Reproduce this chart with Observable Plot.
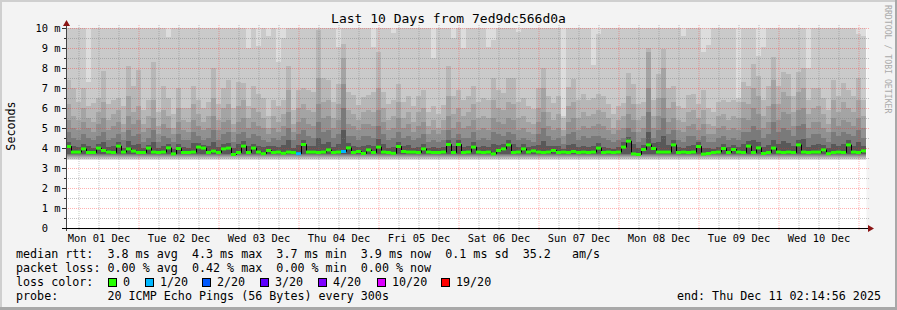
<!DOCTYPE html>
<html><head><meta charset="utf-8">
<script src="https://cdn.jsdelivr.net/npm/d3@7"></script>
<script src="https://cdn.jsdelivr.net/npm/@observablehq/plot@0.6"></script>
<style>
html,body{margin:0;padding:0;background:#f3f3f3;}
#chart{width:897px;height:310px;}
svg{display:block;}
</style></head><body><div id="chart"></div>
<script>
const FONT = "'DejaVu Sans Mono', monospace";
const title = "Last 10 Days from 7ed9dc566d0a";
const yLabel = "Seconds";
const watermark = "RRDTOOL / TOBI OETIKER";
const dayLabels = ["Mon 01 Dec","Tue 02 Dec","Wed 03 Dec","Thu 04 Dec","Fri 05 Dec","Sat 06 Dec","Sun 07 Dec","Mon 08 Dec","Tue 09 Dec","Wed 10 Dec"];
const yTicks = [0,1,2,3,4,5,6,7,8,9,10];
const yMinorTicks = [0.5,1.5,2.5,3.5,4.5,5.5,6.5,7.5,8.5,9.5];
const startHour = 2.249;   // Mon 01 Dec 02:14:56 (hours after Mon 01 Dec 00:00)
const spanHours = 240;
const binHours = 1.5;

// median rtt per bin (ms)
const median = [
4.1,3.82,3.82,3.98,3.8,3.8,4.02,3.9,3.82,3.8,
4.12,3.82,3.98,3.87,3.8,3.8,4.02,3.82,3.8,3.82,
4.03,3.73,4.0,3.8,3.8,3.82,4.07,4.02,3.8,3.87,
3.8,3.98,4.02,3.7,3.8,4.12,3.8,4.02,3.82,3.74,
3.9,3.8,3.82,3.76,3.82,3.8,3.74,4.2,3.82,3.82,
3.8,3.82,3.93,3.8,3.82,3.85,4.03,3.8,3.85,3.75,
3.93,3.8,4.07,3.82,3.8,3.76,4.1,3.85,3.82,3.82,
3.8,3.98,3.82,3.8,3.8,3.82,4.2,3.8,4.2,3.8,
3.82,4.07,3.82,3.8,3.82,3.73,3.9,3.98,4.18,3.8,
3.82,3.98,3.82,3.88,3.82,3.8,3.82,3.9,3.8,3.82,
3.8,3.85,3.8,3.82,3.8,3.82,4.02,3.8,3.82,3.8,
3.82,4.07,4.37,3.73,3.7,3.95,4.18,4.0,3.82,3.82,
3.82,4.18,3.8,3.82,3.8,3.82,4.1,3.72,3.75,3.8,
3.82,4.0,3.8,3.95,3.82,3.8,4.12,3.8,4.03,3.75,
3.8,4.02,3.82,3.8,3.82,3.8,4.18,3.82,3.8,3.82,
3.82,3.93,3.74,3.8,3.82,3.8,4.18,3.82,3.8,3.88];

// smoke band tops (ms), outer to inner
const smoke3 = [
7.4,7.0,6.3,7.0,6.1,6.25,6.5,7.85,6.2,6.4,
6.5,6.1,8.1,7.1,7.9,5.9,6.4,8.3,5.8,7.1,
6.5,5.7,7.0,6.0,6.0,7.1,6.4,6.0,6.3,8.0,
6.2,7.0,7.4,6.0,7.3,7.25,6.1,7.1,6.7,6.5,
5.6,6.4,6.1,6.4,8.1,5.9,6.9,7.0,6.9,6.8,
9.9,7.5,7.4,6.3,7.2,9.2,6.8,6.65,6.15,6.55,
6.65,6.8,8.8,6.8,6.2,6.4,7.2,6.3,6.6,6.1,
6.6,6.9,5.8,6.1,5.7,6.15,8.1,6.6,6.9,6.4,
6.6,7.1,6.3,6.5,6.4,7.5,6.9,6.75,7.5,7.5,
6.3,6.5,6.1,5.95,7.0,8.0,6.6,6.25,6.6,5.5,
7.05,7.45,6.4,6.7,6.4,6.5,6.7,6.6,6.2,5.7,
6.1,6.25,7.77,7.2,6.2,6.3,9.0,6.4,7.7,8.95,
7.0,7.1,6.1,6.0,6.65,6.7,6.2,6.9,6.0,5.8,
6.3,6.4,6.3,6.4,6.3,7.3,7.1,8.2,7.6,6.4,
7.1,8.57,7.1,7.8,7.7,6.6,7.8,8.0,6.4,7.0,
7.0,6.5,5.9,7.4,6.6,7.25,6.9,6.6,7.5,6.4];
const smoke4 = [
6.2,5.6,5.4,6.0,5.5,5.3,5.8,6.3,5.4,5.7,
5.9,5.2,6.6,5.8,6.1,5.2,5.6,6.4,5.1,5.9,
5.6,5.0,6.0,5.4,5.3,6.2,5.7,5.3,5.6,6.5,
5.4,6.0,6.2,5.2,6.1,6.4,5.5,6.0,5.8,5.5,
5.0,5.6,5.3,5.7,6.9,5.2,6.0,6.2,5.9,5.8,
7.5,6.3,6.4,5.5,6.2,8.5,5.9,5.7,5.4,5.8,
5.9,5.8,7.0,6.0,5.4,5.6,6.3,5.5,5.8,5.3,
5.8,6.0,5.1,5.4,5.0,5.4,6.6,5.7,6.0,5.6,
5.8,6.2,5.5,5.6,5.5,6.4,6.0,5.9,6.3,6.2,
5.5,5.6,5.3,5.2,6.0,7.0,5.8,5.4,5.7,4.9,
6.1,6.3,5.5,5.8,5.6,5.7,5.9,5.8,5.5,5.0,
5.4,5.6,6.6,6.2,5.4,5.6,8.8,5.6,6.5,8.0,
6.0,6.3,5.4,5.3,5.8,5.9,5.5,5.9,5.2,5.1,
5.6,5.7,5.4,5.6,5.5,6.3,6.2,7.0,6.6,5.6,
6.1,7.4,6.2,6.8,6.6,5.8,6.8,7.0,5.7,6.0,
6.1,5.7,5.2,6.4,5.8,6.3,6.0,5.8,6.4,5.6];
const smoke5 = [
5.4,5.0,4.9,5.3,5.0,4.8,5.2,5.5,4.9,5.1,
5.3,4.8,5.6,5.2,5.4,4.8,5.0,5.5,4.7,5.2,
5.0,4.7,5.3,4.9,4.8,5.4,5.1,4.9,5.0,5.6,
4.9,5.3,5.4,4.8,5.3,5.5,5.0,5.3,5.1,5.0,
4.7,5.0,4.8,5.1,5.8,4.8,5.3,5.5,5.2,5.1,
6.2,5.5,5.6,5.0,5.4,7.2,5.2,5.1,4.9,5.2,
5.2,5.1,5.9,5.3,4.9,5.0,5.5,5.0,5.2,4.8,
5.1,5.3,4.7,4.9,4.7,4.9,5.6,5.0,5.3,5.0,
5.1,5.4,4.9,5.0,4.9,5.5,5.3,5.2,5.5,5.4,
4.9,5.0,4.8,4.7,5.3,5.8,5.1,4.9,5.0,4.6,
5.3,5.5,4.9,5.1,5.0,5.1,5.2,5.1,4.9,4.7,
4.9,5.0,5.7,5.4,4.8,5.0,7.0,5.0,5.6,6.5,
5.3,5.5,4.9,4.8,5.1,5.2,4.9,5.2,4.7,4.7,
5.0,5.1,4.9,5.0,4.9,5.5,5.4,6.0,5.7,5.0,
5.3,6.2,5.4,5.8,5.7,5.1,5.9,6.0,5.0,5.3,
5.3,5.0,4.8,5.5,5.1,5.4,5.3,5.1,5.5,5.0];
const smoke6 = [
4.8,4.5,4.4,4.7,4.5,4.4,4.6,4.8,4.4,4.5,
4.7,4.4,4.9,4.6,4.7,4.3,4.5,4.9,4.3,4.6,
4.5,4.3,4.7,4.4,4.4,4.8,4.6,4.4,4.5,4.9,
4.4,4.7,4.8,4.3,4.7,4.8,4.5,4.7,4.6,4.4,
4.3,4.5,4.4,4.6,5.0,4.4,4.7,4.9,4.6,4.5,
5.3,4.8,4.9,4.5,4.7,6.0,4.6,4.6,4.4,4.6,
4.6,4.5,5.1,4.7,4.4,4.5,4.8,4.5,4.6,4.4,
4.5,4.7,4.3,4.4,4.3,4.4,4.9,4.5,4.7,4.5,
4.5,4.8,4.4,4.5,4.4,4.8,4.7,4.6,4.8,4.7,
4.4,4.5,4.4,4.3,4.7,5.0,4.6,4.4,4.5,4.2,
4.7,4.8,4.4,4.6,4.5,4.6,4.6,4.5,4.4,4.3,
4.4,4.5,5.0,4.8,4.3,4.5,5.8,4.5,4.9,5.5,
4.7,4.9,4.4,4.3,4.6,4.6,4.4,4.6,4.3,4.3,
4.5,4.6,4.4,4.5,4.4,4.8,4.8,5.1,4.9,4.5,
4.7,5.3,4.8,5.0,4.9,4.6,5.1,5.2,4.5,4.7,
4.7,4.5,4.3,4.8,4.6,4.8,4.7,4.6,4.9,4.5];
const smoke7 = [
4.3,4.1,4.05,4.2,4.1,4.0,4.2,4.3,4.05,4.1,
4.3,4.0,4.35,4.15,4.2,4.0,4.15,4.3,4.0,4.1,
4.2,3.95,4.2,4.05,4.0,4.25,4.25,4.15,4.1,4.3,
4.05,4.2,4.25,4.0,4.2,4.35,4.1,4.2,4.1,4.05,
4.1,4.1,4.05,4.15,4.4,4.0,4.15,4.4,4.1,4.1,
4.5,4.2,4.3,4.05,4.2,4.9,4.25,4.1,4.05,4.1,
4.15,4.1,4.45,4.2,4.0,4.05,4.3,4.1,4.15,4.0,
4.05,4.2,4.0,4.05,4.0,4.05,4.4,4.1,4.4,4.05,
4.1,4.3,4.05,4.1,4.05,4.2,4.15,4.2,4.4,4.2,
4.05,4.2,4.05,4.1,4.15,4.35,4.1,4.1,4.1,3.95,
4.15,4.2,4.05,4.1,4.05,4.1,4.25,4.05,4.0,3.95,
4.05,4.3,4.55,4.2,4.0,4.15,4.8,4.25,4.3,4.6,
4.15,4.4,4.05,4.0,4.1,4.15,4.3,4.0,4.0,3.95,
4.05,4.2,4.05,4.15,4.05,4.2,4.35,4.4,4.3,4.05,
4.15,4.4,4.2,4.35,4.25,4.1,4.4,4.45,4.05,4.15,
4.2,4.15,4.0,4.2,4.1,4.2,4.4,4.1,4.3,4.1];
// bins where the second-outermost smoke band ends below 10 ms
const paleBins = [4,20,36,38,40,42,43,54,61,65,73,77,79,84,85,90,99,105,106,123,127,128,134,138,139,148,158,159];
const paleTops = [7.3,9.55,9.0,9.1,9.6,8.3,9.5,9.07,9.07,9.73,8.5,9.5,9.0,9.07,9.4,9.8,5.6,8.15,9.7,9.6,8.8,9.15,6.5,8.6,9.07,8.0,9.7,9.6];
const smokeBottoms = [3.42,3.47,3.52,3.57,3.62,3.66,3.70];
const outerTop = 10.5;
// bins with 1/20 packet loss
const lossBins = [46,55];

const lossLegend = [["0","#26ff00"],["1/20","#00b8ff"],["2/20","#0059ff"],["3/20","#5e00ff"],["4/20","#7e00ff"],["10/20","#dd00ff"],["19/20","#ff0000"]];
const lossLegendX = [123,160,217,275,333,392,456];
const statLines = [
 "median rtt:  3.8 ms avg  4.3 ms max  3.7 ms min  3.9 ms now  0.1 ms sd  35.2   am/s",
 "packet loss: 0.00 % avg  0.42 % max  0.00 % min  0.00 % now"
];
const lossLabel = "loss color:";
const probeLine = "probe:       20 ICMP Echo Pings (56 Bytes) every 300s";
const endLine = "end: Thu Dec 11 02:14:56 2025";

const bins = median.map((m, i) => {
  const p = paleBins.indexOf(i);
  return {
    x1: startHour + i * binHours, x2: startHour + (i + 1) * binHours,
    xm: startHour + (i + 0.5) * binHours,
    median: m, s2: p >= 0 ? paleTops[p] : outerTop,
    s3: smoke3[i], s4: smoke4[i], s5: smoke5[i], s6: smoke6[i], s7: smoke7[i],
    color: lossBins.includes(i) ? lossLegend[1][1] : lossLegend[0][1]
  };
});

const bandFills = ["#dddddd","#cacaca","#b7b7b7","#a4a4a4","#919191","#7a7a7a","#585858"];
const bandTops = [d => outerTop, "s2", "s3", "s4", "s5", "s6", "s7"];
const dayHours = d3.range(24, spanHours + 1, 24);
const sixHours = d3.range(6, startHour + spanHours, 6).filter(h => h % 24 !== 0);
const noonHours = dayLabels.map((_, i) => i * 24 + 12);

const plot = Plot.plot({
  width: 897, height: 310,
  marginLeft: 66, marginRight: 31, marginTop: 28, marginBottom: 82,
  style: {background: "transparent", fontFamily: FONT, fontSize: "10.4px", color: "#000", overflow: "visible"},
  x: {domain: [startHour, startHour + spanHours], axis: null},
  y: {domain: [0, 10], axis: null},
  color: {type: "identity"},
  marks: [
    Plot.frame({fill: "#ffffff", stroke: null}),
    ...bandFills.map((f, k) => Plot.rect(bins, {x1: "x1", x2: "x2", y1: smokeBottoms[k], y2: bandTops[k], fill: f, clip: true, shapeRendering: "crispEdges"})),
    Plot.ruleY(yMinorTicks, {stroke: "#7a7a7a", strokeOpacity: 0.45, strokeDasharray: "1,1", insetRight: -3}),
    Plot.ruleY(yTicks.filter(v => v > 0), {stroke: "#ff2020", strokeOpacity: 0.35, strokeDasharray: "1,1", insetRight: -3}),
    Plot.ruleX(sixHours, {stroke: "#7a7a7a", strokeOpacity: 0.45, strokeDasharray: "1,1", insetTop: -3, insetBottom: -3}),
    Plot.ruleX(dayHours, {stroke: "#ff2020", strokeOpacity: 0.35, strokeDasharray: "1,1", insetTop: -3, insetBottom: -3}),
    Plot.line(bins, {x: "xm", y: "median", curve: "step", stroke: "#000", strokeWidth: 1}),
    Plot.ruleY(bins, {y: "median", x1: "x1", x2: "x2", stroke: "color", strokeWidth: 3}),
    Plot.axisY(yTicks, {tickSize: 4, tickPadding: 2, stroke: "#333", tickFormat: d => d === 0 ? "0\u00a0\u00a0" : d + " m", fontSize: 10.4}),
    Plot.axisY(yMinorTicks, {tickSize: 2, stroke: "#333", tickFormat: () => ""}),
    Plot.axisX(noonHours, {tickSize: 0, tickPadding: 6, tickFormat: d => dayLabels[noonHours.indexOf(d)], fontSize: 10.4}),
    Plot.ruleX([startHour], {stroke: "#444", insetTop: -6, insetBottom: -3}),
    Plot.ruleY([0], {stroke: "#000", insetLeft: -4, insetRight: -3})
  ]
});
document.getElementById("chart").appendChild(plot);

const svg = d3.select(plot);
const xs = plot.scale("x"), ys = plot.scale("y");
const axX = Math.round(xs.apply(startHour)) + 0.5;
const topY = ys.apply(10), botY = ys.apply(0) + 0.5, rightX = xs.apply(startHour + spanHours);

// image border
svg.append("rect").attr("x", 0).attr("y", 0).attr("width", 897).attr("height", 2).attr("fill", "#cfcfcf");
svg.append("rect").attr("x", 0).attr("y", 0).attr("width", 2).attr("height", 310).attr("fill", "#cfcfcf");
svg.append("rect").attr("x", 0).attr("y", 307).attr("width", 897).attr("height", 3).attr("fill", "#a8a8a8");
svg.append("rect").attr("x", 895).attr("y", 0).attr("width", 2).attr("height", 310).attr("fill", "#a8a8a8");

// axis arrows
svg.append("path").attr("d", `M${axX},${topY - 8} L${axX + 3.5},${topY - 2} L${axX - 3.5},${topY - 2} Z`).attr("fill", "#8a1414");
svg.append("path").attr("d", `M${rightX + 8},${botY} L${rightX + 2},${botY - 3.5} L${rightX + 2},${botY + 3.5} Z`).attr("fill", "#8a1414");

const T = (x, y, s, size, opts = {}) => {
  const t = svg.append("text").attr("x", x).attr("y", y).text(s)
    .attr("font-family", FONT).attr("font-size", size).attr("fill", opts.fill || "#000")
    .attr("text-anchor", opts.anchor || "start").style("white-space", "pre");
  if (opts.transform) t.attr("transform", opts.transform);
  return t;
};
T(448.5, 23, title, 13, {anchor: "middle"});
T(0, 0, yLabel, 11.7, {anchor: "middle", transform: "translate(14.5,126) rotate(-90)"});
T(0, 0, watermark, 8.2, {fill: "#aaaaaa", transform: "translate(885,5) rotate(90)"});

const legendX = 16, legSize = 11.7;
T(legendX, 258, statLines[0], legSize);
T(legendX, 272, statLines[1], legSize);
T(legendX, 286, lossLabel, legSize);
lossLegend.forEach(([lab, col], i) => {
  const lx = lossLegendX[i];
  svg.append("rect").attr("x", lx - 15 + 0.5).attr("y", 278.5).attr("width", 8).attr("height", 8)
    .attr("fill", col).attr("stroke", "#000").attr("stroke-width", 1);
  T(lx, 286, lab, legSize);
});
T(legendX, 300, probeLine, legSize);
T(881, 300, endLine, legSize, {anchor: "end"});
</script>
</body></html>
